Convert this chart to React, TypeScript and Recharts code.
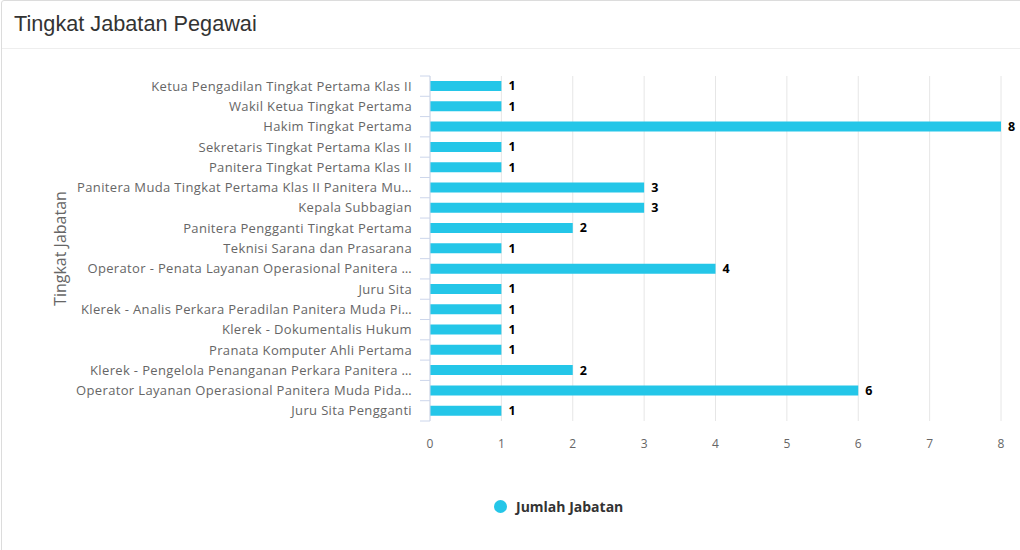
import React from "react";
import { BarChart, Bar, XAxis, YAxis, CartesianGrid, LabelList, Legend } from "recharts";

const CATEGORIES = [
  "Ketua Pengadilan Tingkat Pertama Klas II",
  "Wakil Ketua Tingkat Pertama",
  "Hakim Tingkat Pertama",
  "Sekretaris Tingkat Pertama Klas II",
  "Panitera Tingkat Pertama Klas II",
  "Panitera Muda Tingkat Pertama Klas II Panitera Mu…",
  "Kepala Subbagian",
  "Panitera Pengganti Tingkat Pertama",
  "Teknisi Sarana dan Prasarana",
  "Operator - Penata Layanan Operasional Panitera …",
  "Juru Sita",
  "Klerek - Analis Perkara Peradilan Panitera Muda Pi…",
  "Klerek - Dokumentalis Hukum",
  "Pranata Komputer Ahli Pertama",
  "Klerek - Pengelola Penanganan Perkara Panitera …",
  "Operator Layanan Operasional Panitera Muda Pida…",
  "Juru Sita Pengganti",
];

const JUMLAH = [1, 1, 8, 1, 1, 3, 3, 2, 1, 4, 1, 1, 1, 1, 2, 6, 1];

const X_TICKS = [0, 1, 2, 3, 4, 5, 6, 7, 8];

const data = CATEGORIES.map((name, i) => ({ name, jumlah: JUMLAH[i] }));

const FONT = "'Open Sans', sans-serif";
const BAR_COLOR = "#24c6e8";
const PLOT_TOP = 26;
const PLOT_H = 345;
const BAND = PLOT_H / CATEGORIES.length;

const CategoryTick = (props: any) => {
  const { x, y, payload, index } = props;
  const axisX = x + 18;
  return (
    <g>
      <line x1={axisX - 10} x2={axisX} y1={y - BAND / 2} y2={y - BAND / 2} stroke="#ccd6eb" />
      {index === CATEGORIES.length - 1 && (
        <line x1={axisX - 10} x2={axisX} y1={y + BAND / 2} y2={y + BAND / 2} stroke="#ccd6eb" />
      )}
      <text
        x={x}
        y={y}
        dy="0.35em"
        textAnchor="end"
        fill="#666"
        fontSize={13}
        letterSpacing={0.35}
        fontFamily={FONT}
      >
        {payload.value}
      </text>
    </g>
  );
};

const LegendContent = () => (
  <div style={{ display: "flex", alignItems: "center", fontFamily: FONT }}>
    <span style={{ width: 13, height: 13, borderRadius: "50%", background: BAR_COLOR, display: "inline-block", marginRight: 9 }} />
    <span style={{ fontSize: 14, fontWeight: 700, color: "#333" }}>Jumlah Jabatan</span>
  </div>
);

export default function App() {
  return (
    <div style={{ position: "relative", width: 1020, height: 550, overflow: "hidden", background: "#fff" }}>
      <style>{`body{margin:0}`}</style>
      <div
        style={{
          position: "absolute",
          left: 1,
          top: 0,
          width: 1040,
          height: 570,
          border: "1px solid #dcdcdc",
          borderRadius: 3,
          boxSizing: "border-box",
        }}
      />
      <div
        style={{
          position: "absolute",
          left: 2,
          top: 1,
          width: 1018,
          height: 48,
          borderBottom: "1px solid #eeeeee",
          boxSizing: "border-box",
        }}
      >
        <div
          style={{
            position: "absolute",
            left: 12,
            top: 10,
            fontFamily: "'Liberation Sans', Arial, sans-serif",
            fontSize: 21.7,
            color: "#333",
            whiteSpace: "nowrap",
          }}
        >
          Tingkat Jabatan Pegawai
        </div>
      </div>
      <div style={{ position: "absolute", left: 0, top: 50 }}>
        <BarChart
          width={1020}
          height={500}
          data={data}
          layout="vertical"
          margin={{ top: PLOT_TOP, right: 19, left: 0, bottom: 80 }}
          barCategoryGap={0}
        >
          <CartesianGrid horizontal={false} stroke="#e6e6e6" />
          <XAxis
            type="number"
            domain={[0, 8]}
            ticks={X_TICKS}
            axisLine={false}
            tickLine={false}
            tickMargin={12}
            height={30}
            tick={{ fill: "#666", fontSize: 12, fontFamily: FONT }}
            interval={0}
          />
          <YAxis
            type="category"
            dataKey="name"
            width={430}
            axisLine={{ stroke: "#ccd6eb" }}
            tickLine={false}
            tickSize={10}
            tickMargin={8}
            interval={0}
            tick={<CategoryTick />}
            label={{
              content: (p: any) => {
                const vb = p.viewBox;
                const cy = vb.y + vb.height / 2;
                return (
                  <text
                    x={60}
                    y={cy}
                    transform={`rotate(-90, 60, ${cy})`}
                    textAnchor="middle"
                    dy="0.35em"
                    fill="#666"
                    fontSize={16}
                    fontFamily={FONT}
                  >
                    Tingkat Jabatan
                  </text>
                );
              },
            }}
          />
          <Legend
            content={<LegendContent />}
            wrapperStyle={{ position: "absolute", top: 447, left: 494, width: "auto" }}
          />
          <Bar dataKey="jumlah" name="Jumlah Jabatan" fill={BAR_COLOR} barSize={10} isAnimationActive={false}>
            <LabelList
              dataKey="jumlah"
              position="right"
              offset={7}
              fill="#000"
              fontSize={12.5}
              fontWeight={700}
              fontFamily={FONT}
            />
          </Bar>
        </BarChart>
      </div>
    </div>
  );
}
